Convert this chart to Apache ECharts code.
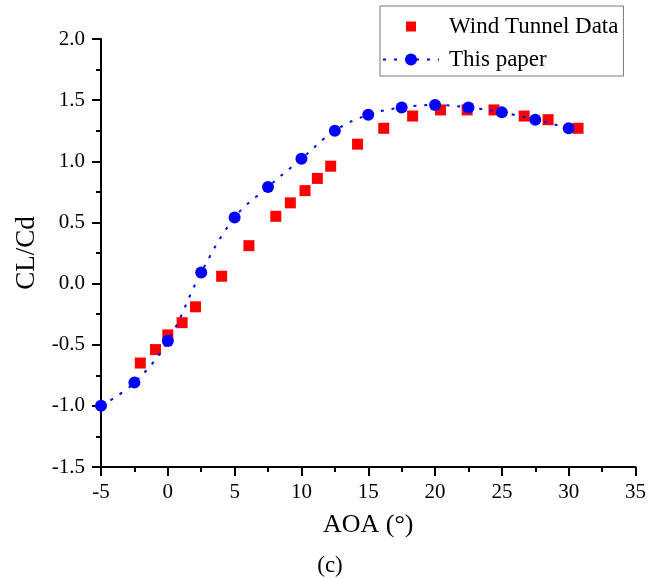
<!DOCTYPE html>
<html>
<head>
<meta charset="utf-8">
<script src="https://cdn.jsdelivr.net/npm/echarts@6/dist/echarts.min.js"></script>
<style>html,body{margin:0;padding:0;background:#fff;}#c{width:649px;height:579px;}</style>
</head>
<body>
<div id="c"></div>
<script>
const tunnelAOA = [-2.06, -0.92, 0, 1.07, 2.07, 4.03, 6.07, 8.08, 9.17, 10.27, 11.19, 12.19, 14.2, 16.16, 18.32, 20.41, 22.4, 24.41, 26.67, 28.46, 30.7];
const tunnelCL  = [-0.65, -0.54, -0.42, -0.32, -0.19, 0.06, 0.31, 0.55, 0.66, 0.76, 0.86, 0.96, 1.14, 1.27, 1.37, 1.42, 1.42, 1.42, 1.37, 1.34, 1.27];
const paperAOA = [-5, -2.5, 0, 2.5, 5, 7.5, 10, 12.5, 15, 17.5, 20, 22.5, 25, 27.5, 30];
const paperCL  = [-1.0, -0.81, -0.47, 0.09, 0.54, 0.79, 1.02, 1.25, 1.38, 1.44, 1.46, 1.44, 1.40, 1.34, 1.27];
const seriesNames = ['Wind Tunnel Data', 'This paper'];
const xTitle = 'AOA (°)';
const yTitle = 'CL/Cd';
const caption = '(c)';

const FONT = '"Liberation Serif", "Times New Roman", serif';
const chart = echarts.init(document.getElementById('c'), null, {renderer: 'canvas'});
const zip = (a, b) => a.map((v, i) => [v, b[i]]);
chart.setOption({
  animation: false,
  backgroundColor: '#fff',
  title: {
    text: caption, left: 330, top: 554, textAlign: 'center', padding: 0,
    textStyle: {fontFamily: FONT, fontSize: 23, fontWeight: 'normal', color: '#000'}
  },
  grid: {left: 101, right: 12, top: 39, bottom: 112, containLabel: false},
  legend: {
    orient: 'vertical', left: 380, top: 6,
    itemWidth: 56, itemHeight: 15, itemGap: 10,
    padding: [9, 5, 5, 2],
    borderColor: '#777', borderWidth: 1,
    textStyle: {fontFamily: FONT, fontSize: 23, color: '#000', padding: [0, 0, 0, 5]},
    data: [
      {name: seriesNames[0], icon: 'path://M0,0M2.5,2.5L12.5,2.5L12.5,12.5L2.5,12.5ZM15,15'},
      {name: seriesNames[1]}
    ]
  },
  xAxis: {
    type: 'value', min: -5, max: 35, interval: 5,
    name: xTitle, nameLocation: 'middle', nameGap: 45,
    nameTextStyle: {fontFamily: FONT, fontSize: 26, color: '#000'},
    axisLine: {onZero: false, lineStyle: {color: '#000', width: 2}},
    axisTick: {inside: false, length: 9, lineStyle: {color: '#000', width: 2}},
    minorTick: {show: true, splitNumber: 2, length: 5, lineStyle: {color: '#000', width: 2}},
    axisLabel: {margin: 15, fontFamily: FONT, fontSize: 21, color: '#000'},
    splitLine: {show: false}
  },
  yAxis: {
    type: 'value', min: -1.5, max: 2.0, interval: 0.5,
    name: yTitle, nameLocation: 'middle', nameGap: 61,
    nameTextStyle: {fontFamily: FONT, fontSize: 27, color: '#000'},
    axisLine: {onZero: false, lineStyle: {color: '#000', width: 2}},
    axisTick: {inside: false, length: 9, lineStyle: {color: '#000', width: 2}},
    minorTick: {show: true, splitNumber: 2, length: 5, lineStyle: {color: '#000', width: 2}},
    axisLabel: {margin: 16, fontFamily: FONT, fontSize: 21, color: '#000', formatter: v => v.toFixed(1)},
    splitLine: {show: false}
  },
  series: [
    {
      name: seriesNames[0], type: 'scatter', symbol: 'rect', symbolSize: 11,
      itemStyle: {color: '#ff0000', opacity: 1},
      data: zip(tunnelAOA, tunnelCL), z: 2
    },
    {
      name: seriesNames[1], type: 'line', smooth: 0.4, symbol: 'circle', symbolSize: 12,
      showAllSymbol: true,
      itemStyle: {color: '#0000ff', opacity: 1},
      lineStyle: {color: '#0000ff', width: 2, type: [3, 8]},
      data: zip(paperAOA, paperCL), z: 3
    }
  ]
});
</script>
</body>
</html>
